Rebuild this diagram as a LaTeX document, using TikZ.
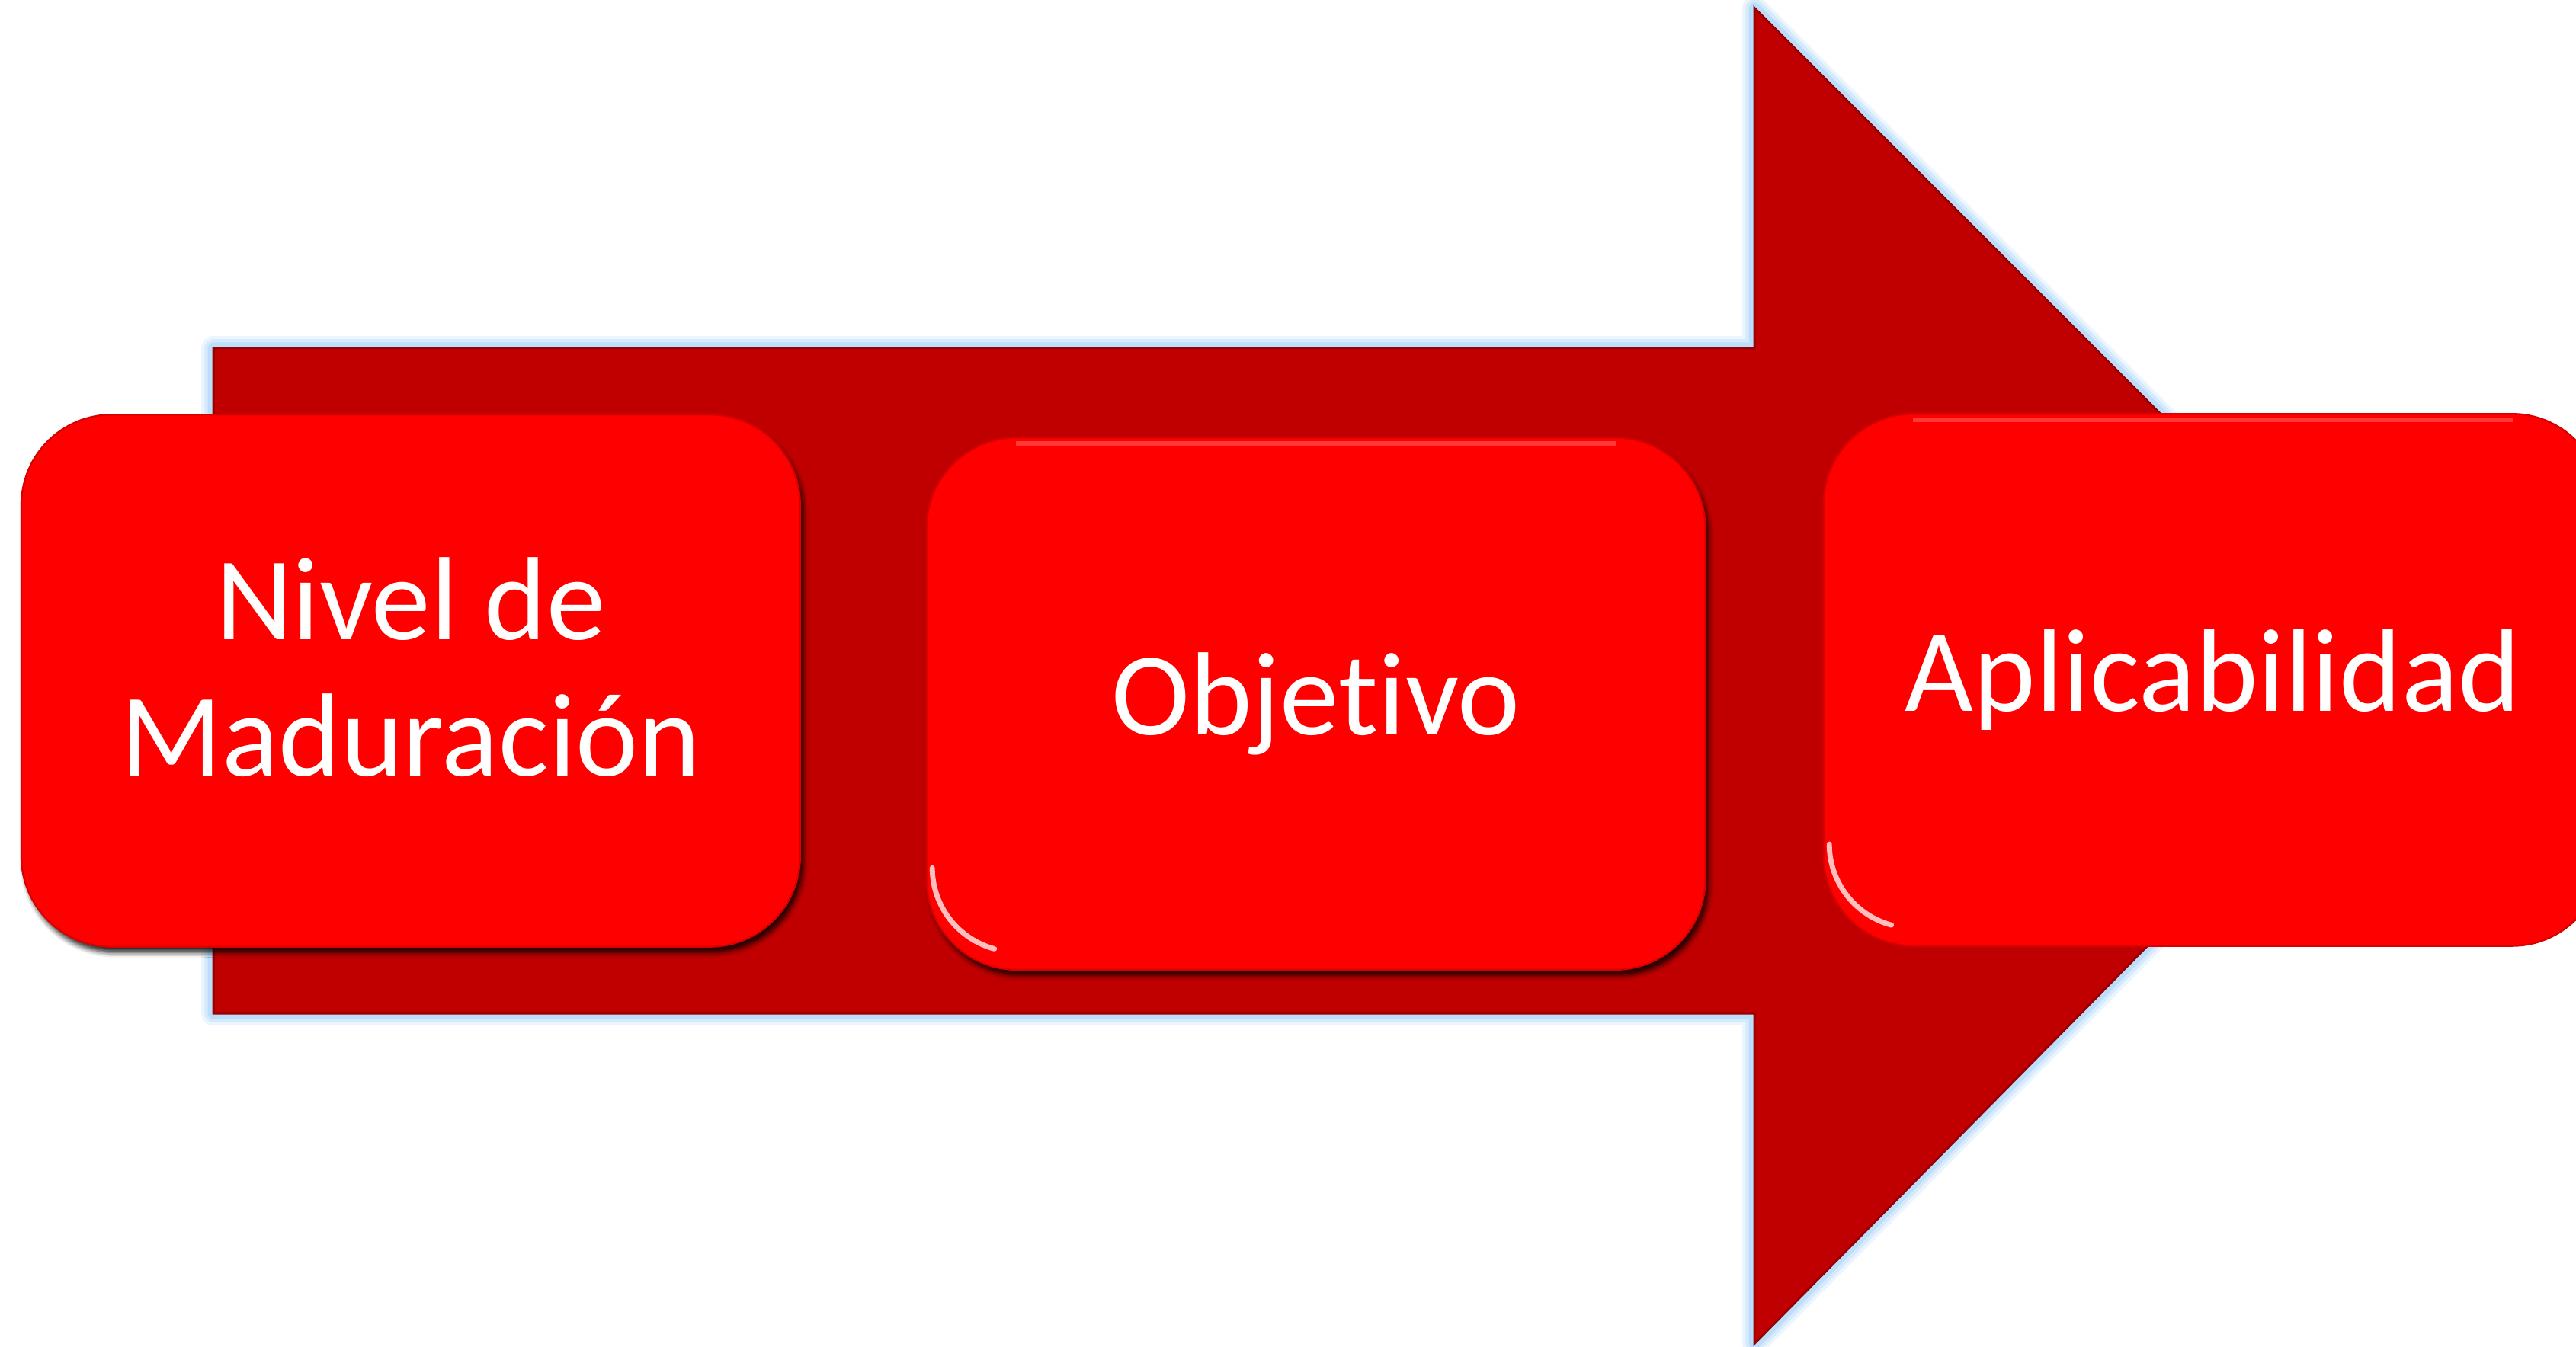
\documentclass[tikz,border=0pt]{standalone}
\usepackage{fontspec}
\setmainfont[RawFeature=-liga]{Carlito}
\usetikzlibrary{shadows.blur}
\definecolor{rojoflecha}{HTML}{C00000}
\definecolor{rojocaja}{HTML}{FF0000}
\definecolor{brillo}{HTML}{B3D9FB}

\begin{document}
\begin{tikzpicture}[font=\fontsize{20.5}{23.6}\selectfont, align=center,
	pasobox/.style={fill=rojocaja, draw=rojocaja!85!black, line width=0.3pt, text=white,
		rounded corners=0.55cm, minimum width=4.74cm, minimum height=3.24cm},
	sombra/.style={blur shadow={shadow xshift=0.02cm, shadow yshift=-0.035cm,
		shadow blur radius=0.03cm, shadow opacity=85}}]
	\useasboundingbox (0, 0) rectangle (15.68, 8.20);

	% 1. Flecha de fondo (Arrow) - halo azul claro
	\foreach \w/\o in {0.15/0.25, 0.11/0.4, 0.07/0.75}
		\draw[brillo, line width=\w cm, opacity=\o, line join=round]
			(1.30, 6.08) -- (10.68, 6.08) -- (10.68, 8.15) -- (14.72, 4.11)
			-- (10.68, 0.02) -- (10.68, 2.03) -- (1.30, 2.03) -- cycle;
	\draw[fill=rojoflecha, draw=rojoflecha!80!black, line width=0.4pt]
		(1.30, 6.08) -- (10.68, 6.08) -- (10.68, 8.15) -- (14.72, 4.11)
		-- (10.68, 0.02) -- (10.68, 2.03) -- (1.30, 2.03) -- cycle;

	% 2. Nivel de Maduracion - primera caja
	\node[pasobox, sombra] (nivel) at (2.50, 4.055)
		{\raisebox{-0.04cm}{\begin{tabular}{@{}c@{}}Nivel de\\Maduración\end{tabular}}};

	% 3. Objetivo - caja central
	\node[pasobox, sombra] (objetivo) at (8.01, 3.915) {Objetivo};

	% 4. Aplicabilidad - caja final (sale del borde)
	\node[pasobox] (aplica) at (13.47, 4.06) {Aplicabilidad};

	% brillos blancos en las esquinas
	\draw[white, line width=0.9pt, opacity=0.75, line cap=round]
		([xshift=0.04cm]objetivo.west) ++(0, -1.0) arc[start angle=180, end angle=255, radius=0.51cm];
	\draw[white, line width=0.9pt, opacity=0.75, line cap=round]
		([xshift=0.04cm]aplica.west) ++(0, -1.0) arc[start angle=180, end angle=255, radius=0.51cm];
	\draw[white, line width=0.8pt, opacity=0.22]
		([xshift=0.55cm, yshift=-0.04cm]objetivo.north west) -- ([xshift=-0.55cm, yshift=-0.04cm]objetivo.north east);
	\draw[white, line width=0.8pt, opacity=0.22]
		([xshift=0.55cm, yshift=-0.04cm]aplica.north west) -- ([xshift=-0.55cm, yshift=-0.04cm]aplica.north east);
\end{tikzpicture}
\end{document}
